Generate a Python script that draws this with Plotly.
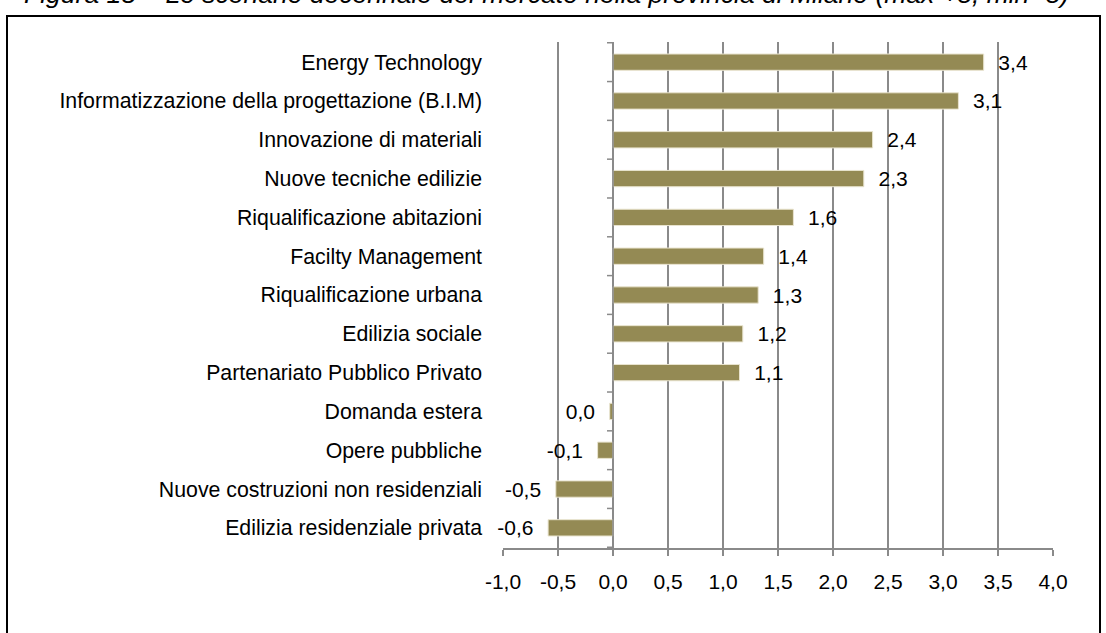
import plotly.graph_objects as go

categories = [
    "Energy Technology",
    "Informatizzazione della progettazione (B.I.M)",
    "Innovazione di materiali",
    "Nuove tecniche edilizie",
    "Riqualificazione abitazioni",
    "Facilty Management",
    "Riqualificazione urbana",
    "Edilizia sociale",
    "Partenariato Pubblico Privato",
    "Domanda estera",
    "Opere pubbliche",
    "Nuove costruzioni non residenziali",
    "Edilizia residenziale privata",
]
values = [3.37, 3.14, 2.36, 2.28, 1.64, 1.37, 1.32, 1.18, 1.15, -0.03, -0.14, -0.52, -0.59]
x_ticks = [-1.0, -0.5, 0.0, 0.5, 1.0, 1.5, 2.0, 2.5, 3.0, 3.5, 4.0]
x_tick_labels = ["-1,0", "-0,5", "0,0", "0,5", "1,0", "1,5", "2,0", "2,5", "3,0", "3,5", "4,0"]
title_text = "Figura 18 – Lo scenario decennale del mercato nella provincia di Milano (max +5, min -5)"


def fmt(v):
    s = f"{v:.1f}"
    if s == "-0.0":
        s = "0.0"
    s = s.replace(".", ",")
    return ("  " + s) if v >= 0 else (s + "  ")


labels = [fmt(v) for v in values]

FONT = "Liberation Sans, Arial, sans-serif"
GRID = "#8a8a8a"

# plot area in pixels (left, top, right, bottom)
L, T, R, B = 503, 42, 1053, 548
W, H = R - L, B - T


def px_x(p):
    return (p - L) / W


def px_y(p):
    return (B - p) / H


fig = go.Figure()
fig.add_trace(go.Bar(
    x=values,
    y=categories,
    orientation="h",
    width=0.42,
    marker=dict(color="#948A54", line=dict(color="#e9e4cf", width=1)),
    text=labels,
    textposition="outside",
    constraintext="none",
    textfont=dict(family=FONT, size=21, color="#000000"),
    cliponaxis=False,
    hoverinfo="skip",
))

shapes = []
shapes.append(dict(type="line", xref="x", yref="y", x0=0, x1=0,
                   y0=-0.5, y1=len(categories) - 0.5,
                   line=dict(color=GRID, width=1.5)))
for k in range(len(categories) + 1):
    shapes.append(dict(type="line", xref="x", yref="y", xsizemode="pixel", xanchor=0,
                       x0=-6, x1=0, y0=k - 0.5, y1=k - 0.5,
                       line=dict(color=GRID, width=1.5)))
shapes.append(dict(type="rect", xref="paper", yref="paper",
                   x0=px_x(7), x1=px_x(1100), y0=px_y(700), y1=px_y(16),
                   line=dict(color="#000000", width=2), fillcolor="rgba(0,0,0,0)", layer="below"))

fig.update_layout(
    width=1106,
    height=633,
    margin=dict(l=L, r=1106 - R, t=T, b=633 - B, autoexpand=False),
    paper_bgcolor="white",
    plot_bgcolor="white",
    showlegend=False,
    font=dict(family=FONT, size=21, color="#000000"),
    shapes=shapes,
    annotations=[dict(
        text=title_text, xref="paper", yref="paper",
        x=px_x(546), y=px_y(11),
        xanchor="center", yanchor="bottom", showarrow=False,
        font=dict(family=FONT, size=26.5, color="#000000", style="italic"),
    )],
)

fig.update_xaxes(
    range=[-1, 4],
    tickvals=x_ticks,
    ticktext=x_tick_labels,
    showgrid=True,
    gridcolor=GRID,
    gridwidth=1.5,
    zeroline=False,
    showline=True,
    linecolor=GRID,
    linewidth=1.5,
    ticks="outside",
    ticklen=6,
    tickcolor=GRID,
    tickwidth=1.5,
    ticklabelstandoff=8,
    automargin=False,
    tickfont=dict(family=FONT, size=21, color="#000000"),
    fixedrange=True,
)
fig.update_yaxes(
    categoryorder="array",
    categoryarray=categories,
    autorange="reversed",
    showgrid=False,
    zeroline=False,
    showline=False,
    ticks="",
    ticklabelstandoff=20,
    automargin=False,
    tickfont=dict(family=FONT, size=21.3, color="#000000"),
    fixedrange=True,
)

fig.write_html(
    "out.html",
    config={"displayModeBar": False},
    post_script="document.body.style.margin='0';document.body.style.overflow='hidden';",
)
